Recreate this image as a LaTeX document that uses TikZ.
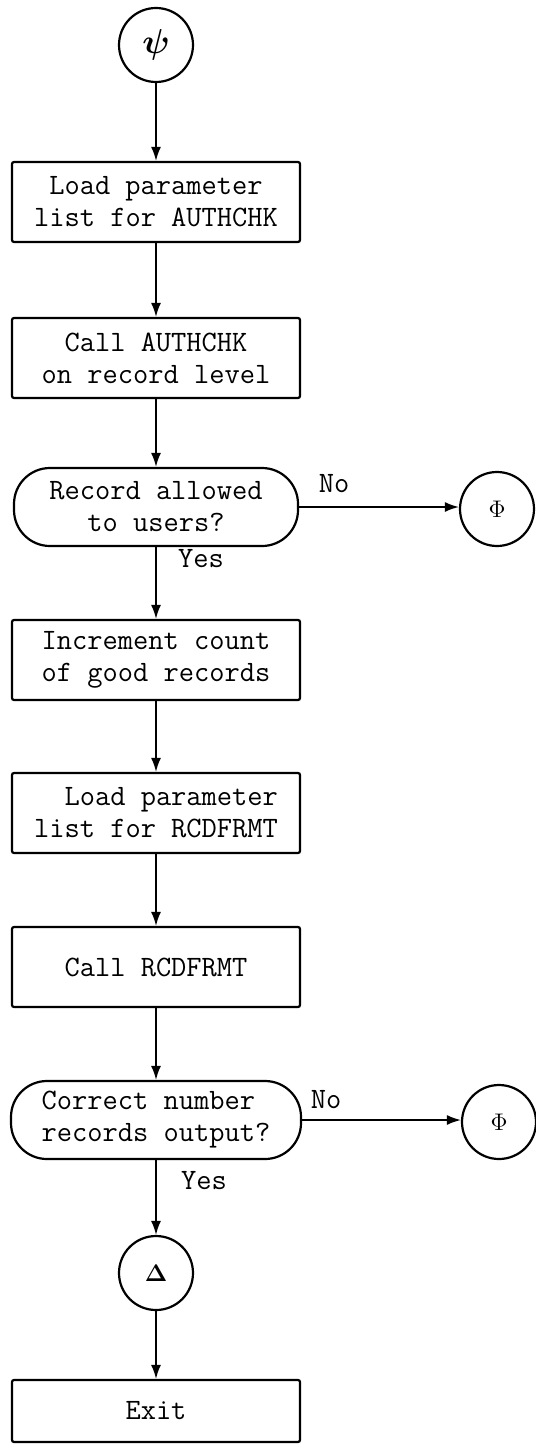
\documentclass[tikz,border=0pt]{standalone}
\usepackage{amsmath}
\usetikzlibrary{arrows.meta}
\begin{document}
\begin{tikzpicture}[x=0.5pt,y=-0.5pt,
  txt/.style={font=\fontsize{14.8}{16}\selectfont\ttfamily},
  stepbox/.style={txt,draw,line width=1.1pt,rounded corners=1pt,
    minimum width=144pt,minimum height=40pt,align=center,inner sep=0pt},
  decide/.style={txt,draw,line width=1.1pt,rounded corners=18pt,
    minimum width=142pt,minimum height=39pt,align=center,inner sep=0pt},
  conn/.style={draw,circle,line width=1.1pt,minimum size=37pt,inner sep=0pt,
    font=\fontsize{13}{14}\selectfont},
  flow/.style={line width=0.8pt,-{Latex[length=7pt,width=5pt]}},
  lbl/.style={txt,inner sep=0pt}]
\useasboundingbox (0,0) rectangle (535,1444);

% main column
\node[conn,font=\fontsize{16}{16}\selectfont] (start) at (156,45) {$\boldsymbol{\psi}$};
\node[stepbox] (ldauth) at (156,202) {Load parameter\\list for AUTHCHK};
\node[stepbox] (callauth) at (156,358) {Call AUTHCHK\\on record level};
\node[decide] (allowed) at (156,507) {Record allowed\\to users?};
\node[stepbox] (incr) at (156,660) {Increment count\\of good records};
\node[stepbox,align=right] (ldfmt) at (156,813) {Load parameter\\list for RCDFRMT};
\node[stepbox] (callfmt) at (156,967) {Call RCDFRMT};
\node[decide,minimum width=145pt,align=left] (count) at (156,1120) {Correct number\\records output?};
\node[conn] (delta) at (156,1273) {$\boldsymbol{\Delta}$};
\node[stepbox,minimum height=31pt] (exit) at (156,1411) {Exit};

% off-page connectors
\node[conn] (phione) at (497,509) {$\Phi$};
\node[conn] (phitwo) at (499,1122) {$\Phi$};

% branch labels
\node[lbl] (noone) at (334,484) {No};
\node[lbl] (yesone) at (201,559) {Yes};
\node[lbl] (notwo) at (326,1100) {No};
\node[lbl] (yestwo) at (204,1181) {Yes};

% connectors
\draw[flow] (start) -- (ldauth);
\draw[flow] (ldauth) -- (callauth);
\draw[flow] (callauth) -- (allowed);
\draw[flow] (allowed.east) -- (allowed.east -| phione.west);
\draw[flow] (allowed) -- (incr);
\draw[flow] (incr) -- (ldfmt);
\draw[flow] (ldfmt) -- (callfmt);
\draw[flow] (callfmt) -- (count);
\draw[flow] (count.east) -- (count.east -| phitwo.west);
\draw[flow] (count) -- (delta);
\draw[flow] (delta) -- (exit);
\end{tikzpicture}
\end{document}
